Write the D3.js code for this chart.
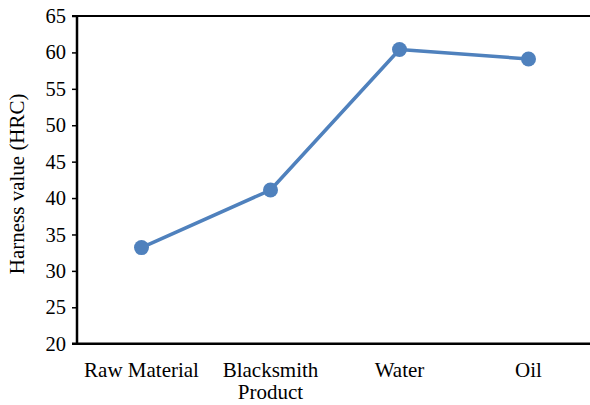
<!DOCTYPE html>
<html><head><meta charset="utf-8">
<script src="https://cdn.jsdelivr.net/npm/d3@7"></script>
<style>body{margin:0;background:#fff}svg{display:block}</style>
</head><body>
<svg id="c" width="590" height="405"></svg>
<script>
const categories = [["Raw Material"], ["Blacksmith", "Product"], ["Water"], ["Oil"]];
const catKeys = ["Raw Material", "Blacksmith Product", "Water", "Oil"];
const values = [33.2, 41.1, 60.4, 59.1];
const yTicks = [20, 25, 30, 35, 40, 45, 50, 55, 60, 65];
const yTitle = "Harness value (HRC)";

const svg = d3.select("#c");
const m = {l: 77, t: 16, r: 593, b: 343.7};
const font = "'Liberation Serif','Times New Roman',serif";
const x = d3.scaleBand().domain(catKeys).range([m.l, m.r]);
const y = d3.scaleLinear().domain([20, 65]).range([m.b, m.t]);
const color = "#4f81bd";

// y axis
const ya = svg.append("g").attr("transform", `translate(${m.l},0)`)
  .call(d3.axisLeft(y).tickValues(yTicks).tickSize(5).tickPadding(6).tickFormat(d3.format("d")));
ya.select(".domain").remove();
ya.selectAll(".tick line").attr("stroke", "#000").attr("stroke-width", 1.5);
ya.selectAll(".tick text").attr("font-family", font).attr("font-size", 20.5).attr("fill", "#000");

// frame lines
svg.append("line").attr("x1", m.l).attr("x2", m.l).attr("y1", m.t - 1).attr("y2", m.b + 1)
  .attr("stroke", "#000").attr("stroke-width", 2.5);
svg.append("line").attr("x1", m.l - 5).attr("x2", 590).attr("y1", m.t).attr("y2", m.t)
  .attr("stroke", "#000").attr("stroke-width", 2);
svg.append("line").attr("x1", m.l - 5).attr("x2", 590).attr("y1", m.b).attr("y2", m.b)
  .attr("stroke", "#000").attr("stroke-width", 2.5);

// x labels
catKeys.forEach((k, i) => {
  const t = svg.append("text").attr("text-anchor", "middle")
    .attr("font-family", font).attr("font-size", 21).attr("fill", "#000");
  categories[i].forEach((line, j) => {
    t.append("tspan").attr("x", x(k) + x.bandwidth() / 2).attr("y", 377 + j * 22).text(line);
  });
});

// y title
svg.append("text").attr("transform", `translate(24,${(m.t + m.b) / 2 + 4}) rotate(-90)`)
  .attr("text-anchor", "middle").attr("font-family", font).attr("font-size", 21).attr("fill", "#000")
  .text(yTitle);

// line
const cx = (d, i) => x(catKeys[i]) + x.bandwidth() / 2;
svg.append("path").datum(values)
  .attr("d", d3.line().x(cx).y(d => y(d)))
  .attr("fill", "none").attr("stroke", color).attr("stroke-width", 3.5).attr("stroke-linejoin", "round");
svg.selectAll("circle.pt").data(values).enter().append("circle")
  .attr("cx", cx).attr("cy", d => y(d)).attr("r", 7.5).attr("fill", color);
</script>
</body></html>
